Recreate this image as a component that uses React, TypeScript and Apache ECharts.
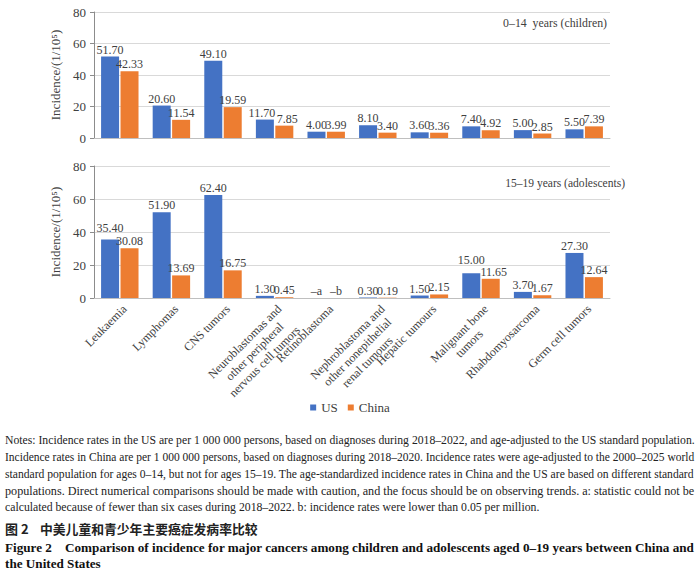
import React, { useEffect, useRef } from "react";
import * as echarts from "echarts";

const categories = [
  "Leukaemia",
  "Lymphomas",
  "CNS tumors",
  "Neuroblastomas and\nother peripheral\nnervous cell tumors",
  "Retinoblastoma",
  "Nephroblastoma and\nother nonepithelial\nrenal tumours",
  "Hepatic tumours",
  "Malignant bone\ntumors",
  "Rhabdomyosarcoma",
  "Germ cell tumors",
];

const childUS = [51.7, 20.6, 49.1, 11.7, 4.0, 8.1, 3.6, 7.4, 5.0, 5.5];
const childCN = [42.33, 11.54, 19.59, 7.85, 3.99, 3.4, 3.36, 4.92, 2.85, 7.39];
const adolUS = [35.4, 51.9, 62.4, 1.3, 0, 0.3, 1.5, 15.0, 3.7, 27.3];
const adolCN = [30.08, 13.69, 16.75, 0.45, 0, 0.19, 2.15, 11.65, 1.67, 12.64];
const adolUSNotes: Record<number, string> = { 4: "–a" };
const adolCNNotes: Record<number, string> = { 4: "–b" };

const yTicks = { min: 0, max: 80, interval: 20 };

const notesLines = [
  "Notes: Incidence rates in the US are per 1 000 000 persons, based on diagnoses during 2018–2022, and age-adjusted to the US standard population.",
  "Incidence rates in China are per 1 000 000 persons, based on diagnoses during 2018–2020. Incidence rates were age-adjusted to the 2000–2025 world",
  "standard population for ages 0–14, but not for ages 15–19. The age-standardized incidence rates in China and the US are based on different standard",
  "populations. Direct numerical comparisons should be made with caution, and the focus should be on observing trends. a: statistic could not be",
  "calculated because of fewer than six cases during 2018–2022. b: incidence rates were lower than 0.05 per million.",
];
const justified = [true, true, true, true, false];
const cnTitleNum = "图 2";
const cnTitle = "中美儿童和青少年主要癌症发病率比较";
const enCaption1 = "Figure 2    Comparison of incidence for major cancers among children and adolescents aged 0–19 years between China and";
const enCaption2 = "the United States";

// label nudges (styling only), keyed by data index
const childUSLabelOffset: Record<number, number[]> = { 3: [-3, 0] };
const childCNLabelOffset: Record<number, number[]> = { 3: [3, 0] };
const adolUSLabelOffset: Record<number, number[]> = { 0: [0, -5], 7: [0, -6] };
const adolCNLabelOffset: Record<number, number[]> = { 7: [3, 0] };

const SERIF = "Liberation Serif";
const BLUE = "#4472C4";
const ORANGE = "#ED7D31";
const TXT = "#404040";

function measure(text: string, font: string): number {
  const c = document.createElement("canvas").getContext("2d");
  if (!c) return text.length * 5;
  c.font = font;
  return c.measureText(text).width;
}

export default function App() {
  const ref = useRef<HTMLDivElement>(null);
  useEffect(() => {
    document.body.style.margin = "0";
    if (!ref.current) return;
    const chart = echarts.init(ref.current, null, { renderer: "svg" });

    const notesFont = `12px ${SERIF}`;
    const targetW = 690;
    const scales = notesLines.map((l) => targetW / measure(l, notesFont));
    const avgScale =
      scales.filter((_, i) => justified[i]).reduce((a, b) => a + b, 0) / 4;
    const noteY = [440, 457, 474, 491, 507];
    const noteGraphics = notesLines.map((l, i) => ({
      type: "text",
      x: 5,
      y: noteY[i],
      scaleX: justified[i] ? scales[i] : avgScale,
      style: {
        text: l,
        fontFamily: SERIF,
        fontSize: 12,
        fill: "#222",
        verticalAlign: "middle",
        align: "left",
      },
    }));
    const capFont = `bold 12.5px ${SERIF}`;
    const capScale = targetW / measure(enCaption1, capFont);

    const ann1 = "0–14  years (children)";
    const ann2 = "15–19 years (adolescents)";
    const ann1Scale = 104 / measure(ann1, `13px ${SERIF}`);
    const ann2Scale = 120 / measure(ann2, `13px ${SERIF}`);

    const yAxisCommon = {
      type: "value",
      ...yTicks,
      name: "Incidence/(1/10⁵)",
      nameLocation: "middle",
      nameGap: 24,
      nameTextStyle: { fontFamily: SERIF, fontSize: 13, color: TXT },
      axisLine: { show: true, lineStyle: { color: "#8c8c8c" } },
      axisTick: { show: true, length: 4, lineStyle: { color: "#8c8c8c" } },
      axisLabel: { fontFamily: SERIF, fontSize: 13, color: TXT, margin: 8 },
      splitLine: { lineStyle: { color: "#d9d9d9" } },
    };

    const labelStyle = (notes?: Record<number, string>) => ({
      show: true,
      position: "top",
      distance: 1,
      fontFamily: SERIF,
      fontSize: 12,
      color: TXT,
      formatter: (p: any) =>
        notes && notes[p.dataIndex] !== undefined
          ? notes[p.dataIndex]
          : Number(p.value).toFixed(2),
    });

    const withOffsets = (vals: number[], offs: Record<number, number[]>) =>
      vals.map((v, i) =>
        offs[i] ? { value: v, label: { offset: offs[i] } } : v
      );

    const barCommon = { type: "bar", barWidth: 18, barGap: "8%" };

    chart.setOption({
      animation: false,
      grid: [
        { left: 94, width: 516, top: 12, height: 126 },
        { left: 94, width: 516, top: 166, height: 132 },
      ],
      legend: {
        top: 396,
        left: "center",
        icon: "rect",
        itemWidth: 6,
        itemHeight: 6,
        itemGap: 10,
        textStyle: { fontFamily: SERIF, fontSize: 13, color: TXT },
        data: ["US", "China"],
      },
      xAxis: [
        {
          type: "category",
          gridIndex: 0,
          data: categories,
          axisLine: { lineStyle: { color: "#bfbfbf" } },
          axisTick: { show: false },
          axisLabel: { show: false },
        },
        {
          type: "category",
          gridIndex: 1,
          data: categories,
          axisLine: { lineStyle: { color: "#bfbfbf" } },
          axisTick: { show: false },
          axisLabel: {
            interval: 0,
            rotate: 45,
            margin: 4,
            verticalAlign: "top",
            fontFamily: SERIF,
            fontSize: 12,
            color: TXT,
            lineHeight: 14,
            formatter: (v: string) =>
              v
                .split("\n")
                .map((s) => `{c|${s}}`)
                .join("\n"),
            rich: {
              c: {
                align: "center",
                fontFamily: SERIF,
                fontSize: 12,
                color: TXT,
                lineHeight: 14,
              },
            },
          },
        },
      ],
      yAxis: [
        { ...yAxisCommon, gridIndex: 0 },
        { ...yAxisCommon, gridIndex: 1 },
      ],
      series: [
        {
          ...barCommon,
          name: "US",
          xAxisIndex: 0,
          yAxisIndex: 0,
          data: withOffsets(childUS, childUSLabelOffset),
          itemStyle: { color: BLUE },
          label: labelStyle(),
        },
        {
          ...barCommon,
          name: "China",
          xAxisIndex: 0,
          yAxisIndex: 0,
          data: withOffsets(childCN, childCNLabelOffset),
          itemStyle: { color: ORANGE },
          label: labelStyle(),
        },
        {
          ...barCommon,
          name: "US",
          xAxisIndex: 1,
          yAxisIndex: 1,
          data: withOffsets(adolUS, adolUSLabelOffset),
          itemStyle: { color: BLUE },
          label: labelStyle(adolUSNotes),
        },
        {
          ...barCommon,
          name: "China",
          xAxisIndex: 1,
          yAxisIndex: 1,
          data: withOffsets(adolCN, adolCNLabelOffset),
          itemStyle: { color: ORANGE },
          label: labelStyle(adolCNNotes),
        },
      ],
      graphic: [
        {
          type: "text",
          x: 607,
          y: 23,
          scaleX: ann1Scale,
          style: {
            text: ann1,
            fontFamily: SERIF,
            fontSize: 13,
            fill: TXT,
            align: "right",
            verticalAlign: "middle",
          },
        },
        {
          type: "text",
          x: 625,
          y: 183,
          scaleX: ann2Scale,
          style: {
            text: ann2,
            fontFamily: SERIF,
            fontSize: 13,
            fill: TXT,
            align: "right",
            verticalAlign: "middle",
          },
        },
        ...noteGraphics,
        {
          type: "text",
          x: 5,
          y: 528,
          style: {
            text: cnTitleNum,
            fontFamily: "Noto Sans CJK SC",
            fontWeight: "bold",
            fontSize: 13,
            fill: "#222",
            verticalAlign: "middle",
          },
        },
        {
          type: "text",
          x: 40,
          y: 528,
          style: {
            text: cnTitle,
            fontFamily: "Noto Sans CJK SC",
            fontWeight: "bold",
            fontSize: 12.8,
            fill: "#222",
            verticalAlign: "middle",
          },
        },
        {
          type: "text",
          x: 5,
          y: 548,
          scaleX: capScale,
          style: {
            text: enCaption1,
            fontFamily: SERIF,
            fontWeight: "bold",
            fontSize: 12.5,
            fill: "#111",
            verticalAlign: "middle",
          },
        },
        {
          type: "text",
          x: 5,
          y: 564,
          scaleX: capScale,
          style: {
            text: enCaption2,
            fontFamily: SERIF,
            fontWeight: "bold",
            fontSize: 12.5,
            fill: "#111",
            verticalAlign: "middle",
          },
        },
      ],
    });
    return () => chart.dispose();
  }, []);
  return <div ref={ref} style={{ width: 700, height: 576 }} />;
}
